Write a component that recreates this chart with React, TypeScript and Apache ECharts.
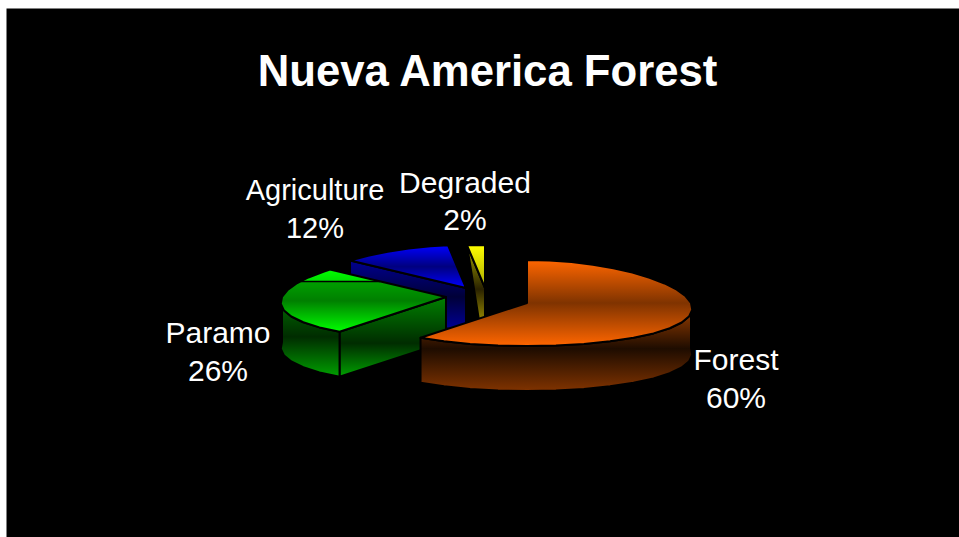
import React, { useEffect, useRef } from "react";
import * as echarts from "echarts";

const titleText = "Nueva America Forest";
const categories = ["Forest", "Paramo", "Agriculture", "Degraded"];
const shares = [60, 26, 12, 2];

const total = shares.reduce((a, b) => a + b, 0);
const startAngles = shares.map(
  (_, i) => (shares.slice(0, i).reduce((a, b) => a + b, 0) / total) * 360
);

// Tilted-disc projection of the pie
const CX = 527;
const CY = 303;
const RX = 164;
const RY = 43;
const DEPTH = 45;
const PERSPECTIVE = 0.003;
const STEP = 9;

type Stop = [number, string];
const band = (stops: Stop[]) => stops.map(([offset, color]) => ({ offset, color }));

const sliceLook = [
  {
    dx: 0, dy: 0, z: 40,
    label: [736, 378.5],
    fontSize: 30,
    top: band([[0, "#ff6600"], [0.5, "#7f3300"], [1, "#ff6600"]]),
    side: band([[0, "#a84400"], [0.52, "#1e0c00"], [1, "#803300"]]),
    face: band([[0, "#ff6600"], [1, "#803300"]]),
  },
  {
    dx: -81, dy: -6, z: 30,
    label: [218, 351.5],
    fontSize: 30,
    top: band([[0, "#00ff00"], [0.19, "#00e000"], [0.19, "#00a000"], [0.5, "#007f00"], [1, "#00ff00"]]),
    side: band([[0, "#007000"], [0.5, "#002c00"], [1, "#00a000"]]),
    face: band([[0, "#008000"], [0.58, "#002c00"], [1, "#00a000"]]),
    seam: 0.19,
  },
  {
    dx: -61, dy: -15, z: 10,
    label: [315, 209],
    fontSize: 29,
    top: band([[0, "#0000ff"], [0.5, "#00007f"], [1, "#0000ff"]]),
    side: band([[0, "#000080"], [1, "#000080"]]),
    face: band([[0, "#000090"], [0.5, "#000038"], [1, "#0000a0"]]),
  },
  {
    dx: -42, dy: -15, z: 20,
    label: [465, 201],
    fontSize: 30,
    top: band([[0, "#ffff00"], [1, "#a8a800"]]),
    side: band([[0, "#808000"], [1, "#808000"]]),
    face: band([[0, "#a8a800"], [0.5, "#2a2200"], [1, "#c0b000"]]),
    footInset: 4,
  },
];

const project = (deg: number, dx: number, dy: number, drop = 0): number[] => {
  const a = (deg * Math.PI) / 180;
  const y0 = -RY * Math.cos(a);
  const scale = 1 + PERSPECTIVE * y0;
  return [CX + dx + RX * Math.sin(a) * scale, CY + dy + y0 + drop];
};

const arcPoints = (from: number, to: number, dx: number, dy: number, drop = 0) => {
  const pts: number[][] = [];
  for (let d = from; d < to; d += STEP) pts.push(project(d, dx, dy, drop));
  pts.push(project(to, dx, dy, drop));
  return pts;
};

const seamLine = (poly: number[][], y: number) => {
  const xs: number[] = [];
  poly.forEach((p, i) => {
    const q = poly[(i + 1) % poly.length];
    if ((p[1] - y) * (q[1] - y) < 0) {
      xs.push(p[0] + ((y - p[1]) / (q[1] - p[1])) * (q[0] - p[0]));
    }
  });
  return [Math.min(...xs), Math.max(...xs)];
};

const fill = (stops: { offset: number; color: string }[]) =>
  new echarts.graphic.LinearGradient(0, 0, 0, 1, stops);

const renderSlice = (params: any, api: any) => {
  const i = params.dataIndex;
  const look: any = sliceLook[i];
  const from = startAngles[i];
  const to = from + (api.value(0) / total) * 360;
  const { dx, dy, z } = look;
  const apexX = CX + dx;
  const apexY = CY + dy;
  const children: any[] = [];
  const outline = { stroke: "#000", lineWidth: 2, lineJoin: "round" };

  // Cut face along the leading radius, seen when it turns towards the viewer
  if (Math.sin((from * Math.PI) / 180) < -1e-6) {
    const rim = project(from, dx, dy);
    const foot = look.footInset
      ? [apexX - look.footInset, apexY + DEPTH]
      : [rim[0], rim[1] + DEPTH];
    children.push({
      type: "polygon",
      z2: z,
      shape: { points: [[apexX, apexY], rim, foot, [apexX, apexY + DEPTH]] },
      style: { fill: fill(look.face), ...outline },
    });
  }

  // Outer wall on the near half of the disc
  const wallFrom = Math.max(from, 90);
  const wallTo = Math.min(to, 270);
  if (wallTo > wallFrom) {
    children.push({
      type: "polygon",
      z2: z + 1,
      shape: {
        points: [
          ...arcPoints(wallFrom, wallTo, dx, dy),
          ...arcPoints(wallFrom, wallTo, dx, dy, DEPTH).reverse(),
        ],
      },
      style: { fill: fill(look.side), ...outline },
    });
  }

  const topFace = [[apexX, apexY], ...arcPoints(from, to, dx, dy)];
  children.push({
    type: "polygon",
    z2: z + 2,
    shape: { points: topFace },
    style: { fill: fill(look.top), ...outline },
  });

  // Shading seam across the top face
  if (look.seam) {
    const ys = topFace.map((p) => p[1]);
    const y = Math.min(...ys) + look.seam * (Math.max(...ys) - Math.min(...ys));
    const [x1, x2] = seamLine(topFace, y);
    children.push({
      type: "line",
      z2: z + 3,
      shape: { x1, y1: y, x2, y2: y },
      style: { stroke: "#000", lineWidth: 1.5 },
    });
  }

  children.push({
    type: "text",
    z2: 100,
    style: {
      text: `${categories[i]}\n${api.value(0)}%`,
      x: look.label[0],
      y: look.label[1],
      align: "center",
      verticalAlign: "middle",
      fill: "#ffffff",
      font: `${look.fontSize}px "Liberation Sans", Arial, sans-serif`,
      lineHeight: 37.5,
    },
  });

  return { type: "group", children };
};

export default function App() {
  const ref = useRef<HTMLDivElement>(null);

  useEffect(() => {
    document.body.style.margin = "0";
    document.body.style.background = "#ffffff";
    const chart = echarts.init(ref.current!, null, { renderer: "svg" });
    chart.setOption({
      animation: false,
      backgroundColor: "#ffffff",
      title: {
        text: titleText,
        left: 482.5,
        top: 43,
        textAlign: "center",
        textStyle: {
          color: "#ffffff",
          fontFamily: '"Liberation Sans", Arial, sans-serif',
          fontWeight: "bold",
          fontSize: 43.7,
        },
        z: 20,
      },
      graphic: [
        {
          type: "rect",
          z: -1,
          silent: true,
          shape: { x: 6.5, y: 8.4, width: 953, height: 529 },
          style: { fill: "#000000" },
        },
      ],
      series: [
        {
          type: "custom",
          coordinateSystem: "none",
          renderItem: renderSlice,
          data: shares.map((value, i) => ({ name: categories[i], value })),
          silent: true,
        },
      ],
    });
    return () => chart.dispose();
  }, []);

  return <div ref={ref} style={{ width: 959, height: 537, overflow: "hidden" }} />;
}
